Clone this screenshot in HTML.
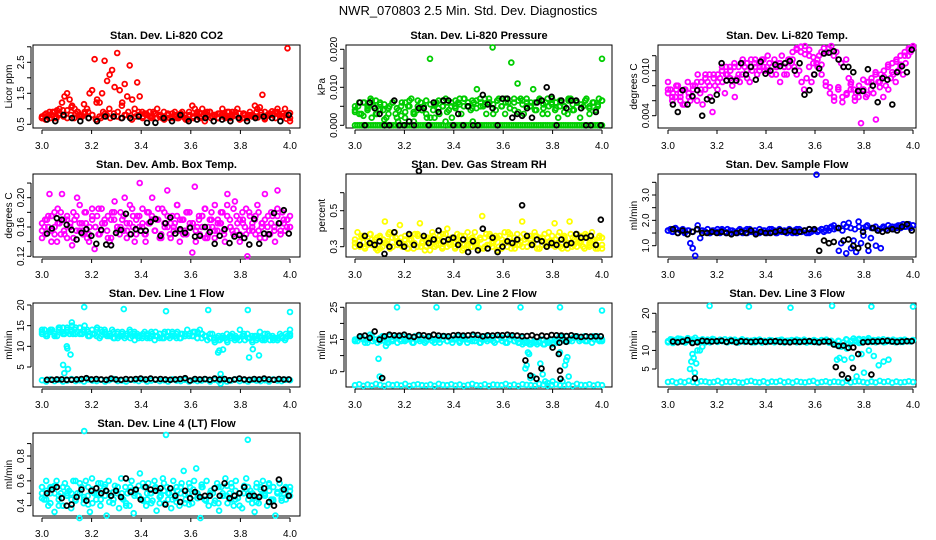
<!DOCTYPE html>
<html><head><meta charset="utf-8"><style>
html,body{margin:0;padding:0;background:#fff;}
svg{display:block;font-family:"Liberation Sans",Arial,sans-serif;}
</style></head><body>
<svg id="chart" width="936" height="540" viewBox="0 0 936 540" xmlns="http://www.w3.org/2000/svg">
<text x="468" y="15" text-anchor="middle" font-size="13">NWR_070803  2.5 Min. Std. Dev. Diagnostics</text>
</svg>
<script>
// ---------- data ----------
const co2Red=[0.7,0.8,0.75,0.9,0.8,0.7,0.95,1.0,1.2,1.4,1.5,1.3,1.1,1.0,0.9,0.8,0.75,0.9,1.0,1.5,1.6,2.6,1.3,1.2,1.5,2.55,1.9,2.1,2.25,1.7,2.8,1.6,1.2,1.8,1.4,2.4,1.3,1.0,1.85,1.4,0.9,0.85,0.8,0.9,0.75,0.85,1.0,0.8,0.7,0.75,0.8,0.7,0.85,0.9,0.7,0.75,0.8,0.7,0.65,0.8,1.1,1.0,0.9,0.85,1.0,0.6,0.8,0.9,0.75,0.8,0.7,0.85,1.0,0.8,0.9,0.7,0.9,0.8,1.0,0.85,0.7,0.8,0.75,0.9,0.8,1.1,1.0,1.05,1.45,0.9,0.8,0.85,0.8,0.9,1.0,0.8,0.85,1.0,2.95,0.6];
const co2Red2=[0.7,0.65,0.8,0.9,0.7,0.85,0.75,0.95,0.8,0.7,0.9,0.75,0.85,0.7,0.8,0.65,0.75,0.9,0.8,0.7,0.85,0.75,0.7,0.8,0.9,0.65,0.75,0.8,0.7,0.85,0.75,0.9,0.7,0.8,0.65,0.85,0.75,0.8,0.7,0.9,0.65,0.8,0.75,0.85,0.7,0.8,0.9,0.7,0.75,0.85,0.8,0.7,0.9,0.75,0.8,0.65,0.85,0.7,0.8,0.75,0.72,0.88,0.66,0.78,0.92,0.7,0.83,0.76,0.68,0.86];
const co2Red3=[0.75,0.85,0.7,0.9,0.8,0.95,0.7,1.05,0.85,0.75,1.15,0.9,0.8,1.2,0.7,0.85,1.0,0.75,0.9,1.1,0.8,0.7,0.85,0.9,0.75,0.8,0.7,0.85,0.75,0.9,0.8,0.7,0.75,0.85,0.8,0.9,0.7,0.8,0.75,0.85,0.9,0.8,0.7,0.85,0.75,0.8,0.9,0.7,0.85,0.8,0.75,0.9,0.8,0.7,0.85,0.8,0.9,0.75,0.8,0.7];
const co2Black=[0.65,0.6,0.8,0.7,0.6,0.7,0.6,0.75,0.75,0.7,0.7,0.75,0.55,0.55,0.7,0.6,0.8,0.6,0.65,0.7,0.6,0.65,0.6,0.7,0.6,0.7,0.75,0.7,0.6,0.8];

const presGreen=[0.004,0.005,0.003,0.006,0.004,0.007,0.005,0.003,0.006,0.004,0.002,0.005,0.006,0.003,0.004,0.006,0.002,0.005,0.007,0.003,0.004,0.006,0.005,0.002,0.0175,0.004,0.006,0.003,0.005,0.007,0.004,0.002,0.005,0.006,0.003,0.007,0.005,0.004,0.006,0.0095,0.007,0.005,0.003,0.006,0.0205,0.004,0.007,0.005,0.003,0.006,0.0165,0.004,0.011,0.007,0.003,0.006,0.005,0.0095,0.004,0.007,0.003,0.006,0.005,0.007,0.004,0.002,0.006,0.005,0.003,0.007,0.004,0.006,0.002,0.005,0.007,0.003,0.006,0.004,0.007,0.0175];
const presGreen2=[0,0,0,0,0,0,0,0,0,0,0,0,0,0,0,0,0,0,0,0.001,0,0,0,0,0,0,0.001,0,0,0,0,0,0,0,0,0,0,0,0,0,0.001,0,0,0,0,0,0,0,0,0,0,0,0.001,0,0,0,0,0,0,0,0,0,0,0,0,0,0,0,0,0,0,0,0,0,0,0,0,0,0,0,0,0,0,0,0,0,0,0,0,0,0,0,0,0,0,0,0,0,0,0,0,0,0,0,0,0,0,0,0,0];
const presGreen3=[0.005,0.003,0.006,0.0045,0.002,0.0065,0.004,0.0055,0.003,0.006,0.0045,0.0025,0.006,0.005,0.0035,0.0065,0.004,0.003,0.0055,0.002,0.0065,0.005,0.0035,0.006,0.0045,0.007,0.005,0.006,0.0065,0.0045,0.006,0.0055,0.007,0.003,0.0065,0.005,0.006,0.0045,0.007,0.0035,0.0065,0.005,0.006,0.004,0.0065,0.0055,0.003,0.006,0.0045,0.0065,0.005,0.007,0.004,0.006,0.0055,0.0065,0.0045,0.006,0.005,0.0065];
const presGreen4=[0.0035,0.006,0.0025,0.005,0.0065,0.003,0.0055,0.0015,0.0045,0.006,0.002,0.005,0.0035,0.0065,0.003,0.005,0.004,0.0065,0.002,0.0055,0.0045,0.0065,0.006,0.005,0.0065,0.0055,0.007,0.006,0.0045,0.0065,0.005,0.007,0.006,0.0055,0.0065,0.005,0.007,0.0045,0.006,0.0065,0.0055,0.007,0.005,0.006,0.0065,0.0045,0.007,0.0055,0.006,0.005,0.0035,0.0065,0.0055,0.006,0.0045,0.0065,0.005,0.006,0.0055,0.0065];
const presBlack=[0.006,0,0.006,0.0045,0.003,0,0,0.0065,0,0,0.001,0,0.0045,0.0045,0,0.006,0.0035,0.0065,0.0065,0,0.003,0,0.005,0,0,0.008,0.0055,0.0045,0,0.007,0.007,0.002,0.003,0.0025,0.0045,0.002,0.006,0.0065,0.01,0.0075,0,0.0065,0.0045,0.0065,0.0065,0.0045,0,0,0.0035,0];

const tempMag=[0.0085,0.0075,0.007,0.0065,0.008,0.006,0.0055,0.0075,0.0085,0.006,0.0065,0.008,0.0095,0.007,0.0055,0.0075,0.0085,0.0065,0.0045,0.008,0.0075,0.009,0.0085,0.007,0.0095,0.0105,0.008,0.0065,0.009,0.0085,0.0095,0.0105,0.009,0.0085,0.01,0.011,0.0095,0.0105,0.0115,0.01,0.0105,0.011,0.0095,0.0115,0.0105,0.011,0.012,0.0105,0.0095,0.0115,0.011,0.0105,0.0095,0.01,0.0085,0.0075,0.009,0.0105,0.0085,0.0095,0.011,0.012,0.0125,0.013,0.0125,0.013,0.0133,0.012,0.0125,0.0115,0.011,0.0105,0.0115,0.009,0.0085,0.0075,0.007,0.0065,0.003,0.0075,0.0065,0.0085,0.0075,0.007,0.0035,0.0085,0.0095,0.0065,0.008,0.0075,0.009,0.0095,0.0085,0.01,0.0105,0.0095,0.011,0.012,0.0125,0.013];
const tempMag2=[0.007,0.0065,0.0075,0.0065,0.0075,0.007,0.008,0.0085,0.0075,0.009,0.0095,0.009,0.0095,0.01,0.0105,0.01,0.011,0.0105,0.0115,0.011,0.0105,0.0115,0.011,0.0105,0.01,0.0095,0.0105,0.011,0.0105,0.0115,0.0125,0.013,0.0125,0.0133,0.012,0.011,0.0115,0.0095,0.008,0.007,0.0065,0.0075,0.0065,0.007,0.0075,0.0065,0.008,0.0075,0.0085,0.009,0.0095,0.0085,0.01,0.0105,0.011,0.0115,0.012,0.0125,0.013,0.0133];
const tempMag3=[0.0075,0.006,0.008,0.007,0.0055,0.0065,0.0075,0.006,0.0085,0.0095,0.008,0.0095,0.0085,0.0105,0.0095,0.009,0.0105,0.0095,0.011,0.01,0.0115,0.0105,0.01,0.0115,0.012,0.0105,0.0095,0.0085,0.0095,0.0105,0.0115,0.0128,0.0132,0.0122,0.0128,0.0118,0.0105,0.0108,0.0085,0.0078,0.006,0.0078,0.0058,0.0068,0.0082,0.006,0.0072,0.0088,0.0068,0.0085,0.0098,0.0078,0.0092,0.0108,0.0098,0.0112,0.0108,0.012,0.0128,0.013];
const tempBlack=[0.0055,0.0045,0.0074,0.0055,0.0066,0.0074,0.0040,0.0062,0.0060,0.0068,0.0110,0.0087,0.0087,0.0087,0.0110,0.0095,0.0105,0.0088,0.0112,0.0096,0.0100,0.0108,0.0106,0.0110,0.0113,0.0100,0.0110,0.0068,0.0074,0.0095,0.0103,0.0123,0.0124,0.0126,0.0115,0.0105,0.0105,0.0098,0.0073,0.0073,0.0102,0.0080,0.0058,0.0090,0.0088,0.0055,0.0098,0.0106,0.0098,0.0128];

const ambMag=[0.145,0.16,0.17,0.205,0.155,0.18,0.14,0.165,0.205,0.15,0.175,0.16,0.135,0.17,0.2,0.155,0.165,0.18,0.145,0.16,0.185,0.13,0.175,0.15,0.165,0.17,0.155,0.14,0.18,0.195,0.16,0.15,0.17,0.2,0.155,0.165,0.185,0.14,0.175,0.22,0.16,0.15,0.18,0.165,0.2,0.155,0.17,0.145,0.185,0.16,0.21,0.15,0.175,0.165,0.19,0.14,0.17,0.155,0.18,0.165,0.125,0.215,0.16,0.15,0.175,0.185,0.145,0.17,0.16,0.19,0.155,0.165,0.18,0.14,0.205,0.17,0.155,0.195,0.165,0.15,0.18,0.16,0.12,0.175,0.155,0.17,0.19,0.145,0.165,0.205,0.16,0.15,0.175,0.14,0.21,0.165,0.18,0.155,0.17,0.16];
const ambMag2=[0.155,0.17,0.16,0.175,0.15,0.165,0.18,0.155,0.17,0.16,0.145,0.175,0.165,0.155,0.18,0.15,0.17,0.16,0.185,0.155,0.165,0.175,0.145,0.17,0.16,0.18,0.155,0.165,0.15,0.175,0.17,0.16,0.185,0.15,0.165,0.175,0.155,0.17,0.145,0.18,0.16,0.165,0.155,0.175,0.17,0.15,0.18,0.16,0.165,0.155,0.17,0.175,0.145,0.16,0.18,0.155,0.17,0.165,0.15,0.175,0.16,0.185,0.155,0.17,0.165,0.15,0.18,0.16,0.175,0.155,0.165,0.17,0.15,0.18,0.16,0.175,0.155,0.165,0.17,0.16];
const ambMag3=[0.165,0.15,0.175,0.14,0.16,0.185,0.15,0.17,0.145,0.165,0.18,0.155,0.19,0.15,0.165,0.14,0.175,0.16,0.15,0.185,0.165,0.145,0.17,0.18,0.155,0.16,0.175,0.145,0.19,0.16,0.15,0.175,0.165,0.14,0.18,0.17,0.155,0.185,0.15,0.165,0.175,0.145,0.16,0.19,0.155,0.17,0.15,0.18,0.165,0.14,0.175,0.16,0.185,0.15,0.17,0.145,0.165,0.18,0.155,0.19,0.16,0.15,0.175,0.14,0.17,0.185,0.155,0.165,0.15,0.18,0.16,0.145,0.175,0.165,0.155,0.185,0.15,0.17,0.16,0.175];
const ambBlack=[0.151,0.158,0.172,0.17,0.163,0.156,0.143,0.152,0.157,0.148,0.137,0.156,0.136,0.135,0.152,0.156,0.178,0.15,0.157,0.155,0.155,0.167,0.171,0.148,0.165,0.173,0.151,0.157,0.152,0.159,0.147,0.148,0.16,0.153,0.137,0.148,0.157,0.138,0.147,0.149,0.145,0.136,0.171,0.137,0.151,0.15,0.179,0.165,0.183,0.151];

const rhYel=[0.32,0.38,0.3,0.35,0.29,0.33,0.37,0.31,0.34,0.28,0.36,0.3,0.44,0.33,0.29,0.35,0.38,0.31,0.42,0.3,0.34,0.29,0.36,0.32,0.37,0.3,0.43,0.33,0.28,0.35,0.31,0.38,0.3,0.34,0.36,0.29,0.33,0.4,0.31,0.35,0.3,0.37,0.32,0.28,0.36,0.31,0.34,0.3,0.38,0.33,0.29,0.47,0.35,0.31,0.37,0.3,0.34,0.28,0.36,0.32,0.38,0.3,0.35,0.33,0.29,0.37,0.31,0.44,0.34,0.3,0.36,0.32,0.38,0.29,0.35,0.31,0.37,0.3,0.33,0.36,0.43,0.32,0.38,0.29,0.35,0.31,0.44,0.3,0.34,0.37,0.32,0.36,0.29,0.35,0.3,0.38,0.33,0.31,0.36,0.29];
const rhYel2=[0.3,0.33,0.36,0.31,0.34,0.29,0.35,0.32,0.37,0.3,0.33,0.35,0.31,0.34,0.29,0.36,0.32,0.3,0.35,0.33,0.31,0.37,0.3,0.34,0.32,0.36,0.29,0.33,0.35,0.31,0.34,0.3,0.36,0.32,0.35,0.29,0.33,0.37,0.31,0.34,0.3,0.35,0.32,0.36,0.29,0.33,0.35,0.31,0.34,0.3,0.36,0.32,0.35,0.3,0.33,0.37,0.31,0.34,0.29,0.35];
const rhYel3=[0.34,0.31,0.36,0.3,0.33,0.37,0.31,0.35,0.29,0.34,0.32,0.38,0.3,0.35,0.33,0.31,0.36,0.29,0.34,0.32,0.37,0.3,0.35,0.33,0.28,0.36,0.31,0.34,0.3,0.37,0.32,0.35,0.29,0.33,0.36,0.31,0.38,0.3,0.34,0.32,0.35,0.29,0.37,0.31,0.33,0.36,0.3,0.34,0.32,0.38,0.29,0.35,0.31,0.33,0.37,0.3,0.34,0.32,0.36,0.29,0.35,0.31,0.38,0.33,0.3,0.36,0.32,0.34,0.29,0.37,0.31,0.35,0.33,0.3,0.36,0.32,0.34,0.29,0.35,0.31];
const rhBlack=[0.31,0.36,0.32,0.31,0.33,0.26,0.3,0.38,0.32,0.3,0.37,0.31,0.72,0.36,0.32,0.34,0.39,0.33,0.34,0.35,0.31,0.34,0.27,0.33,0.28,0.4,0.29,0.35,0.27,0.3,0.33,0.32,0.34,0.53,0.36,0.31,0.34,0.33,0.3,0.32,0.31,0.34,0.31,0.32,0.37,0.35,0.35,0.36,0.31,0.45];

const flowBlue=[1.6,1.65,1.55,1.7,1.5,1.6,1.65,1.55,1.6,1.1,0.9,0.6,1.8,1.3,1.6,1.55,1.65,1.5,1.6,1.55,1.65,1.5,1.6,1.55,1.65,1.5,1.6,1.55,1.5,1.65,1.55,1.6,1.5,1.65,1.55,1.6,1.5,1.65,1.55,1.6,1.5,1.65,1.55,1.6,1.5,1.65,1.55,1.6,1.5,1.65,1.55,1.6,1.5,1.65,1.55,1.6,1.5,1.65,1.55,1.6,3.8,1.6,1.65,1.55,1.7,1.6,1.75,1.8,1.7,0.8,1.1,1.85,0.7,1.9,0.9,1.2,0.75,1.95,1.1,1.4,1.75,0.8,1.3,1.7,1.0,1.6,0.9,1.75,1.65,1.8,1.7,1.65,1.75,1.8,1.7,1.85,1.75,1.8,1.7,1.8];
const flowBlue2=[1.6,1.55,1.65,1.6,1.5,1.6,1.55,1.65,1.6,1.55,1.5,1.6,1.55,1.65,1.5,1.6,1.55,1.6,1.5,1.65,1.55,1.6,1.5,1.6,1.55,1.65,1.5,1.6,1.55,1.6,1.5,1.65,1.55,1.6,1.5,1.6,1.55,1.65,1.6,1.7,1.65,1.7,1.6,1.75,1.7,1.65,1.75,1.7,1.8,1.7,1.75,1.65,1.7,1.8,1.75,1.7,1.8,1.75,1.85,1.8];
const flowBlack=[1.65,1.5,1.6,1.45,1.55,1.65,1.5,1.5,1.55,1.5,1.55,1.5,1.45,1.5,1.55,1.5,1.6,1.45,1.55,1.5,1.5,1.55,1.6,1.55,1.6,1.55,1.55,1.6,1.65,1.65,0.8,1.2,1.1,1.15,1.7,1.2,1.25,1.0,0.9,1.55,1.0,1.7,1.6,1.55,1.6,1.65,1.6,1.75,1.85,1.6];

const l1Up=[13,14,12.5,13.5,14,13,12.5,14.5,13.5,13,14.5,13,15,14,13.5,14.5,13,15,14,12.5,14,13,14.5,12,13.5,14,12.5,13,14,12,13,12.5,13.5,12,13,14,12.5,11.5,13,12.5,12,13.5,12.5,12,13,11.5,12.5,13,12,13.5,12.5,12,13,12.5,13.5,12,13,12.5,14,13,12.5,13.5,12,14,13,12.5,11.5,12,13,11,12,11.5,12.5,12,11,12.5,13,11.5,12,14,12.5,11.5,13,12,11,12.5,12,13.5,11.5,12,13,11.5,12.5,12,11.5,13,12,11.5,12.5,14];
const l1Up2=[13.5,12.5,14,13,14.5,13,14,13.5,14.5,13,14,13.5,13,12.5,14,13,12.5,13.5,12,13,12.5,13.5,13,12,12.5,13,13.5,12.5,13,12,13.5,12.5,13,12,13,12.5,13.5,12,13,12.5,12,11.5,12.5,12,11.5,12.5,12,11.5,12.5,12,11.5,12.5,12,11.5,12.5,12,11.5,12.5,12,13];
const l1Up3=[14,13,13.5,12.5,14,14.5,13.5,14,13,14.5,13.5,12.5,13,14,12.5,13.5,13,12,13.5,12.5,13,12,13.5,12.5,13,12,12.5,13.5,12,13,12.5,13.5,12,13,12.5,13,12.5,13.5,12,12.5,13,12,11.5,12.5,13,12,12.5,11.5,13,12,12.5,11.5,12,13,12.5,11.5,12,12.5,13,12.5];
const l1Low=[1.8,1.5,2,1.6,1.9,1.5,1.7,2.1,1.6,1.8,1.5,2,1.7,1.6,1.9,1.5,1.8,2.1,1.6,1.7,1.5,1.9,1.8,1.6,2,1.5,1.7,1.9,1.6,1.8,1.5,2,1.7,1.6,1.9,1.5,1.8,1.6,1.7,2,1.5,1.9,1.6,1.8,1.5,1.7,2,1.6,1.8,1.5,1.9,1.7,1.6,1.8,1.5,2,1.7,1.6,1.9,1.8];
const l1TransX=[3.085,3.09,3.1,3.102,3.105,3.115,3.12,3.125,3.71,3.715,3.72,3.73,3.85,3.875,3.835,3.72];
const l1TransY=[5.5,3.5,10,9.5,4.5,8,15.8,13,8.5,9,3.3,9.2,9.3,7.8,7.3,1];
const l1OutX=[3.17,3.33,3.5,3.67,3.83,4.0];
const l1OutY=[19.5,19,18.5,18.8,18.8,18.3];
const l1Black=[1.9,1.9,2,2,1.9,1.9,2,2.1,2.3,2,2.1,2,1.9,2.2,2,1.9,2.1,2,2.1,2.2,2,2.2,2,2.1,2,1.9,2,2.1,2.3,1.7,2.1,2,2.1,1.9,2.2,2,2.1,1.8,2,2.2,2,1.9,2.1,2,2.2,2,1.9,2.1,2,2];

const l2Up=[15,14.5,16,15.5,14,15,16.5,14.5,15,14,15.5,16,14.5,15,16,14.5,15.5,14,15,16,14.5,15,15.5,14,16,15,14.5,15.5,14,15,16,14.5,15,15.5,14,15,16,14.5,15.5,14,15,16,14.5,15,15.5,14,15,16,14.5,15.5,14,15,16,14.5,15,15.5,14,15,16,14.5,15.5,14,15,16,14.5,15,14,15.5,14,14.5,13.5,14,14.5,13.5,14,15,13.5,14.5,14,13.5,15,14,16,15.5,14.5,16,15,14.5,16,15.5,14.5,15,16,14.5,15.5,14,15,16,14.5,15];
const l2Up2=[14.5,15.5,15,14,16,15,14.5,15.5,14,15,16,14.5,15,15.5,14,16,15,14.5,15.5,14,15,16,14.5,15,15.5,14,16,15,14.5,15.5,14,15,16,14.5,15,15.5,14,16,14.5,14,13.5,14,13.5,14,14.5,13.5,14,15,14.5,16,15,14.5,15.5,16,15,14.5,15.5,16,15,14.5];
const l2Low=[0.8,1.1,0.6,1,0.7,1.2,0.9,0.6,1.1,0.8,1,0.7,1.2,0.6,0.9,1.1,0.8,0.7,1,0.6,1.2,0.9,0.8,1.1,0.7,1,0.6,0.9,1.2,0.8,0.7,1.1,0.6,1,0.9,0.8,1.2,0.7,1,0.6,1.1,0.9,0.8,0.7,1.2,1,0.6,0.9,1.1,0.8,0.7,1,0.6,1.2,0.9,0.8,1.1,0.7,1,0.8];
const l2TransX=[3.095,3.1,3.11,3.125,3.13,3.69,3.695,3.7,3.705,3.71,3.72,3.75,3.76,3.77,3.78,3.8,3.83,3.84,3.85,3.855,3.86,3.865];
const l2TransY=[9,3.5,3,13,14,6,7,11,10.5,3,3.5,7.5,4.2,2,1.5,2,11,2,7,8.5,9.5,3.5];
const l2OutX=[3.17,3.33,3.5,3.67,3.83,4.0];
const l2OutY=[25,25,25,25,25,24];
const l2Black=[16,16.2,15.5,17.5,15,16,16.5,16.3,16.2,16.5,16,15.8,16.4,16.3,16,16.5,16.2,16.1,16,16.3,16.4,16.2,16.3,16.5,16.4,16,16.3,16.2,16.4,16.3,16.5,16.3,16.2,16,16.1,16.3,15.8,16.2,16,16.4,16.3,16.2,16.1,16.3,16,15.8,16,15.9,16,16];
const l2DipX=[3.11,3.69,3.71,3.735,3.755,3.8,3.825,3.828,3.83,3.855,3.832];
const l2DipY=[3,8.5,3.8,2.8,6,12.5,10.5,14,5.3,14.3,2.8];

const l3Up=[12.5,13,12,12.8,13.2,12.4,12.9,12.1,13.3,12.6,12.2,13.4,12.8,12.3,13,12.5,12.9,12.2,13.1,12.6,12.3,12.9,12.5,13,12.2,12.7,12.4,12.9,12.1,12.6,13,12.3,12.7,12.5,12.2,12.8,12.4,12.9,12.1,12.6,12.3,12.8,12.5,12.2,12.7,12.4,12.9,12.1,12.6,12.3,12.8,12.5,12.2,12.7,12.4,12.9,12.1,12.6,12.3,12.8,12.5,12.2,12.7,12.4,12.9,12.1,12.6,12,11.5,12.5,11,12.2,13,11.8,12.6,13.2,12.4,12.8,12.1,13,12.5,13.3,12.4,12.8,12.2,12.9,12.5,13,12.3,12.7,12.4,12.9,12.2,12.6,12.8,12.3,12.7,12.5,12.4,12.8];
const l3Up2=[12.2,12.9,12.5,13.1,12.3,12.7,13,12.4,12.8,12.2,12.6,13,12.4,12.7,12.3,12.9,12.5,12.2,12.8,12.4,12.6,12.2,12.9,12.5,12.3,12.7,12.4,12.8,12.2,12.6,12.5,12.9,12.3,12.7,12.4,12.6,12.2,12.8,12.5,12.3,11.8,12.6,11.2,12.9,12.3,12.7,13.1,12.5,12.9,12.3,12.7,12.5,12.2,12.8,12.4,12.6,12.3,12.9,12.5,12.7];
const l3Low=[1.5,1.7,1.3,1.6,1.4,1.8,1.5,1.3,1.7,1.6,1.4,1.5,1.8,1.3,1.6,1.5,1.7,1.4,1.3,1.6,1.8,1.5,1.4,1.7,1.3,1.6,1.5,1.8,1.4,1.6,1.3,1.7,1.5,1.4,1.6,1.8,1.3,1.5,1.7,1.4,1.6,1.5,1.3,1.8,1.4,1.6,1.7,1.5,1.3,1.6,1.4,1.8,1.5,1.7,1.3,1.6,1.4,1.5,1.7,1.5];
const l3TransX=[3.09,3.095,3.1,3.105,3.11,3.115,3.12,3.13,3.14,3.69,3.7,3.72,3.73,3.75,3.77,3.78,3.79,3.8,3.82,3.84,3.86,3.88,3.9];
const l3TransY=[5,7,9,8,4,6.5,10,10,11,7.5,8,7.5,10.5,8,3,12,9,4,10,8.5,6,7,7.5];
const l3OutX=[3.17,3.33,3.5,3.67,3.83,4.0];
const l3OutY=[22,21.8,21.5,22,21.8,21.8];
const l3Black=[12.4,12.2,12.4,12.8,12,12.2,12.6,12.5,12.4,12.5,12.6,12.3,12.6,12.2,12.5,12.4,12.3,12.4,12.5,12.3,12.4,12.5,12.3,12.3,12.2,12.4,12.3,12.4,12.5,12.3,12.2,12.4,12.4,11.6,11.2,11.3,10.7,10.8,9,12.2,12.3,12.4,12.4,12.5,12.6,12.4,12.3,12.4,12.5,12.5];
const l3DipX=[3.11,3.685,3.71,3.735,3.755,3.83];
const l3DipY=[2.5,5.5,3.5,2.5,5.3,3.5];

const l4Cyan=[0.55,0.45,0.6,0.4,0.5,0.55,0.35,0.6,0.45,0.5,0.4,0.58,0.48,0.52,0.38,0.6,0.45,0.5,0.3,0.55,0.42,0.6,0.48,0.35,0.62,0.5,0.45,0.58,0.4,0.52,0.55,0.32,0.6,0.48,0.42,0.56,0.5,0.38,0.62,0.45,0.55,0.5,0.4,0.6,0.34,0.52,0.48,0.66,0.45,0.55,0.4,0.58,0.5,0.44,0.6,0.36,0.52,0.48,0.62,0.42,0.55,0.5,0.38,0.6,0.46,0.52,0.4,0.58,0.68,0.45,0.5,0.55,0.42,0.6,0.7,0.48,0.3,0.55,0.45,0.6,0.4,0.52,0.5,0.44,0.58,0.36,0.55,0.48,0.62,0.42,0.5,0.55,0.4,0.6,0.46,0.5,0.38,0.56,0.62,0.45,0.52,0.5,0.35,0.58,0.42,0.55,0.6,0.48,0.4,0.52,0.45,0.55,0.32,0.5,0.58,0.44,0.5,0.55,0.48,0.52];
const l4Cyan2=[0.5,0.45,0.55,0.5,0.4,0.55,0.5,0.45,0.6,0.5,0.45,0.55,0.42,0.5,0.58,0.48,0.5,0.45,0.55,0.5,0.42,0.55,0.5,0.48,0.58,0.45,0.5,0.55,0.42,0.52,0.5,0.45,0.55,0.5,0.42,0.58,0.48,0.5,0.55,0.45,0.5,0.42,0.55,0.5,0.48,0.58,0.45,0.5,0.55,0.5,0.42,0.55,0.48,0.5,0.58,0.45,0.5,0.52,0.45,0.55];
const l4Cyan3=[0.46,0.52,0.42,0.56,0.48,0.4,0.54,0.5,0.44,0.58,0.47,0.41,0.53,0.49,0.45,0.57,0.43,0.51,0.55,0.46,0.4,0.52,0.48,0.56,0.44,0.5,0.42,0.54,0.47,0.58,0.45,0.51,0.43,0.55,0.49,0.41,0.53,0.46,0.57,0.44,0.5,0.54,0.42,0.48,0.56,0.45,0.52,0.4,0.5,0.55,0.47,0.43,0.53,0.49,0.57,0.44,0.51,0.46,0.54,0.48];
const l4OutX=[3.17,3.5,3.83];
const l4OutY=[1.0,0.97,0.93];
const l4Black=[0.5,0.53,0.55,0.46,0.4,0.41,0.47,0.53,0.44,0.52,0.54,0.5,0.52,0.48,0.52,0.47,0.62,0.51,0.53,0.45,0.55,0.53,0.52,0.54,0.41,0.54,0.48,0.43,0.52,0.46,0.51,0.47,0.48,0.48,0.54,0.48,0.58,0.46,0.48,0.5,0.55,0.48,0.48,0.47,0.54,0.43,0.4,0.61,0.53,0.48];

// ---------- layout ----------
const colL=[33,346,658], colR=[300,612,916], colX3=[42,355,668], colX4=[290,602,913];
const rowT=[45,174,303,433], rowB=[128,257,387,516];
const NS="http://www.w3.org/2000/svg";
const svg=document.getElementById('chart');
const RED='#ff0000',GRN='#00cd00',MAG='#ff00ff',YEL='#ffff00',BLU='#0000ff',CYN='#00ffff',BLK='#000000';

function mk(tag,attrs,parent){const e=document.createElementNS(NS,tag);for(const k in attrs)e.setAttribute(k,attrs[k]);(parent||svg).appendChild(e);return e;}
function even(n,a,b){const r=[];for(let i=0;i<n;i++)r.push(n===1?a:a+(b-a)*i/(n-1));return r;}

function panel(cfg){
  const c=cfg.col,r=cfg.row;
  const L=colL[c],R=colR[c],T=rowT[r],B=rowB[r];
  const g=mk('g',{});
  
  
  const xs=v=>colX3[c]+(v-3)*(colX4[c]-colX3[c]);
  const ys=v=>cfg.p0+(v-cfg.v0)*(cfg.p1-cfg.p0)/(cfg.v1-cfg.v0);
  const t=mk('text',{x:(L+R)/2,y:T-6,'text-anchor':'middle','font-size':'11','font-weight':'bold'},g);
  t.textContent=cfg.title;
  
  
  const yl=mk('text',{transform:`translate(${L-21},${(T+B)/2}) rotate(-90)`,'text-anchor':'middle','font-size':'10'},g);
  yl.textContent=cfg.ylab;
  
  
  const xt=[3.0,3.2,3.4,3.6,3.8,4.0];
  const xa=mk('g',{},g);
  
  
  mk('line',{x1:xs(3),x2:xs(4),y1:B+2,y2:B+2,stroke:'#000','stroke-width':1},xa);
  xt.forEach(v=>{mk('line',{x1:xs(v),x2:xs(v),y1:B+2,y2:B+6,stroke:'#000'},xa);
    const tl=mk('text',{x:xs(v),y:B+21,'text-anchor':'middle','font-size':'10'},xa);tl.textContent=v.toFixed(1);});
  const ya=mk('g',{},g);
  
  
  const yt=cfg.ticks;
  mk('line',{x1:L-2,x2:L-2,y1:ys(yt[0]),y2:ys(yt[yt.length-1]),stroke:'#000'},ya);
  yt.forEach(v=>{mk('line',{x1:L-6,x2:L-2,y1:ys(v),y2:ys(v),stroke:'#000'},ya);});
  cfg.labels.forEach((v,i)=>{const tl=mk('text',{transform:`translate(${L-9},${ys(v)}) rotate(-90)`,'text-anchor':'middle','font-size':'10'},ya);tl.textContent=cfg.labelText[i];});
  const bx=mk('rect',{x:L,y:T,width:R-L,height:B-T,fill:'none',stroke:'#000','stroke-width':1},g);
  
  
  cfg.series.forEach(s=>{
    const sg=mk('g',{fill:'none',stroke:s.color,'stroke-width':1.8},g);
    
    
    const xv=s.x||even(s.y.length,s.a!==undefined?s.a:3.0,s.b!==undefined?s.b:4.0);
    s.y.forEach((v,i)=>{const p=mk('circle',{cx:xs(xv[i]).toFixed(1),cy:ys(v).toFixed(1),r:2.4},sg);
      
      });
  });
}

panel({name:'co2',col:0,row:0,title:'Stan. Dev. Li-820 CO2',ylab:'Licor ppm',v0:0.5,p0:124.3,v1:2.5,p1:62.3,
  ticks:[0.5,1,1.5,2,2.5,3],labels:[0.5,1.5,2.5],labelText:['0.5','1.5','2.5'],
  series:[{id:'red-series',y:co2Red,color:RED},{id:'red-series-2',y:co2Red2,color:RED},{id:'red-series-3',y:co2Red3,color:RED},{id:'black-series',y:co2Black,color:BLK,a:3.02,b:3.995}]});
panel({name:'pressure',col:1,row:0,title:'Stan. Dev. Li-820 Pressure',ylab:'kPa',v0:0,p0:125.3,v1:0.02,p1:49.3,
  ticks:[0,0.005,0.01,0.015,0.02],labels:[0,0.01,0.02],labelText:['0.000','0.010','0.020'],
  series:[{id:'green-series',y:presGreen,color:GRN},{id:'green-series-2',y:presGreen2,color:GRN},{id:'green-series-3',y:presGreen3,color:GRN},{id:'green-series-4',y:presGreen4,color:GRN},{id:'black-series',y:presBlack,color:BLK,a:3.02,b:3.995}]});
panel({name:'li820-temp',col:2,row:0,title:'Stan. Dev. Li-820 Temp.',ylab:'degrees C',v0:0.004,p0:115.7,v1:0.010,p1:70.7,
  ticks:[0.004,0.006,0.008,0.010,0.012],labels:[0.004,0.010],labelText:['0.004','0.010'],
  series:[{id:'magenta-series',y:tempMag,color:MAG},{id:'magenta-series-2',y:tempMag2,color:MAG},{id:'magenta-series-3',y:tempMag3,color:MAG},{id:'black-series',y:tempBlack,color:BLK,a:3.02,b:3.995}]});
panel({name:'amb-box-temp',col:0,row:1,title:'Stan. Dev. Amb. Box Temp.',ylab:'degrees C',v0:0.12,p0:256.3,v1:0.20,p1:197.7,
  ticks:[0.12,0.14,0.16,0.18,0.2,0.22],labels:[0.12,0.16,0.20],labelText:['0.12','0.16','0.20'],
  series:[{id:'magenta-series',y:ambMag,color:MAG},{id:'magenta-series-2',y:ambMag2,color:MAG},{id:'magenta-series-3',y:ambMag3,color:MAG},{id:'black-series',y:ambBlack,color:BLK,a:3.02,b:3.995}]});
panel({name:'gas-stream-rh',col:1,row:1,title:'Stan. Dev. Gas Stream RH',ylab:'percent',v0:0.3,p0:246.7,v1:0.5,p1:210.7,
  ticks:[0.3,0.4,0.5,0.6],labels:[0.3,0.5],labelText:['0.3','0.5'],
  series:[{id:'yellow-series',y:rhYel,color:YEL},{id:'yellow-series-2',y:rhYel2,color:YEL},{id:'yellow-series-3',y:rhYel3,color:YEL},{id:'black-series',y:rhBlack,color:BLK,a:3.02,b:3.995}]});
panel({name:'sample-flow',col:2,row:1,title:'Stan. Dev. Sample Flow',ylab:'ml/min',v0:1,p0:245.7,v1:3,p1:195,
  ticks:[1,1.5,2,2.5,3,3.5],labels:[1,2,3],labelText:['1.0','2.0','3.0'],
  series:[{id:'blue-series',y:flowBlue,color:BLU},{id:'blue-series-2',y:flowBlue2,color:BLU},{id:'black-series',y:flowBlack,color:BLK,a:3.02,b:3.995}]});
panel({name:'line1-flow',col:0,row:2,title:'Stan. Dev. Line 1 Flow',ylab:'ml/min',v0:5,p0:367,v1:20,p1:305,
  ticks:[5,10,15,20],labels:[5,10,15,20],labelText:['5','10','15','20'],
  series:[{id:'cyan-upper',y:l1Up,color:CYN},{id:'cyan-upper-2',y:l1Up2,color:CYN},{id:'cyan-upper-3',y:l1Up3,color:CYN},{id:'cyan-lower',y:l1Low,color:CYN},{id:'cyan-transition',x:l1TransX,y:l1TransY,color:CYN},{id:'cyan-outliers',x:l1OutX,y:l1OutY,color:CYN},{id:'black-series',y:l1Black,color:BLK,a:3.02,b:3.995}]});
panel({name:'line2-flow',col:1,row:2,title:'Stan. Dev. Line 2 Flow',ylab:'ml/min',v0:5,p0:371.7,v1:25,p1:307.3,
  ticks:[5,10,15,20,25],labels:[5,15,25],labelText:['5','15','25'],
  series:[{id:'cyan-upper',y:l2Up,color:CYN},{id:'cyan-upper-2',y:l2Up2,color:CYN},{id:'cyan-lower',y:l2Low,color:CYN},{id:'cyan-transition',x:l2TransX,y:l2TransY,color:CYN},{id:'cyan-outliers',x:l2OutX,y:l2OutY,color:CYN},{id:'black-series',y:l2Black,color:BLK,a:3.02,b:3.995},{id:'black-dips',x:l2DipX,y:l2DipY,color:BLK}]});
panel({name:'line3-flow',col:2,row:2,title:'Stan. Dev. Line 3 Flow',ylab:'ml/min',v0:5,p0:369,v1:20,p1:313.3,
  ticks:[5,10,15,20],labels:[5,10,20],labelText:['5','10','20'],
  series:[{id:'cyan-upper',y:l3Up,color:CYN},{id:'cyan-upper-2',y:l3Up2,color:CYN},{id:'cyan-lower',y:l3Low,color:CYN},{id:'cyan-transition',x:l3TransX,y:l3TransY,color:CYN},{id:'cyan-outliers',x:l3OutX,y:l3OutY,color:CYN},{id:'black-series',y:l3Black,color:BLK,a:3.02,b:3.995},{id:'black-dips',x:l3DipX,y:l3DipY,color:BLK}]});
panel({name:'line4-flow',col:0,row:3,title:'Stan. Dev. Line 4 (LT) Flow',ylab:'ml/min',v0:0.4,p0:505.7,v1:0.8,p1:456,
  ticks:[0.4,0.5,0.6,0.7,0.8,0.9],labels:[0.4,0.6,0.8],labelText:['0.4','0.6','0.8'],
  series:[{id:'cyan-series',y:l4Cyan,color:CYN},{id:'cyan-series-2',y:l4Cyan2,color:CYN},{id:'cyan-series-3',y:l4Cyan3,color:CYN},{id:'cyan-outliers',x:l4OutX,y:l4OutY,color:CYN},{id:'black-series',y:l4Black,color:BLK,a:3.02,b:3.995}]});
</script>
</body></html>
